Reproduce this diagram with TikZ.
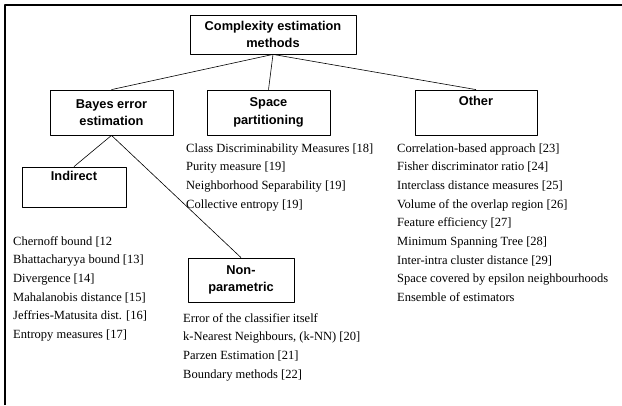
\documentclass[tikz,border=0pt]{standalone}
\usepackage{fontspec}
\setmainfont{Liberation Serif}
\newfontfamily\boxfont{Liberation Sans}
\begin{document}
\begin{tikzpicture}[x=1pt, y=-1pt, line join=round,
  box/.style={draw, line width=0.8pt, inner sep=0pt, align=center,
    font=\boxfont\bfseries\fontsize{12.8}{17.5}\selectfont},
  item/.style={inner sep=0pt, anchor=base west, font=\fontsize{12.5}{14}\selectfont},
  link/.style={line width=0.6pt}]
	\useasboundingbox (0,0) rectangle (622,405);
	\draw[line width=2pt] (5,405) -- (5,5) -- (622,5);
	% boxes
	\node[box, minimum width=166, minimum height=39] (top) at (273,34.5) {Complexity estimation\\methods};
	\node[box, minimum width=123, minimum height=45] (bayes) at (111.5,112.5) {Bayes error\\estimation};
	\node[box, minimum width=123, minimum height=45] (space) at (268.5,112.5) {Space\\partitioning};
	\node[box, minimum width=122, minimum height=45] (other) at (476,112.5) {Other\\\strut};
	\node[box, minimum width=104, minimum height=40] (indirect) at (74,187) {Indirect\\\strut};
	\node[box, minimum width=106, minimum height=44] (nonpar) at (241,280) {Non-\\parametric};
	% connectors
	\draw[link] (top.south) -- (bayes.north);
	\draw[link] (top.south) -- (space.north);
	\draw[link] (top.south) -- (other.north);
	\draw[link] (bayes.south) -- (indirect.north);
	\draw[link] (bayes.south) -- (nonpar.north);
	% lists
	\foreach \t [count=\i from 0] in {Class Discriminability Measures [18], Purity measure [19],
		Neighborhood Separability [19], Collective entropy [19]}
		\node[item] (sp-\i) at (186,152+18.7*\i) {\t};
	\foreach \t [count=\i from 0] in {Correlation-based approach [23], Fisher discriminator ratio [24],
		Interclass distance measures [25], Volume of the overlap region [26], Feature efficiency [27],
		Minimum Spanning Tree [28], Inter-intra cluster distance [29],
		Space covered by epsilon neighbourhoods, Ensemble of estimators}
		\node[item] (ot-\i) at (397,152+18.7*\i) {\t};
	\foreach \t [count=\i from 0] in {Chernoff bound [12, Bhattacharyya bound [13], Divergence [14],
		Mahalanobis distance [15], Jeffries-Matusita dist. [16], Entropy measures [17]}
		\node[item] (in-\i) at (13,245+18.7*\i) {\t};
	\foreach \t [count=\i from 0] in {Error of the classifier itself, {k-Nearest Neighbours, (k-NN) [20]},
		Parzen Estimation [21], Boundary methods [22]}
		\node[item] (np-\i) at (183,322+18.7*\i) {\t};
\end{tikzpicture}
\end{document}
